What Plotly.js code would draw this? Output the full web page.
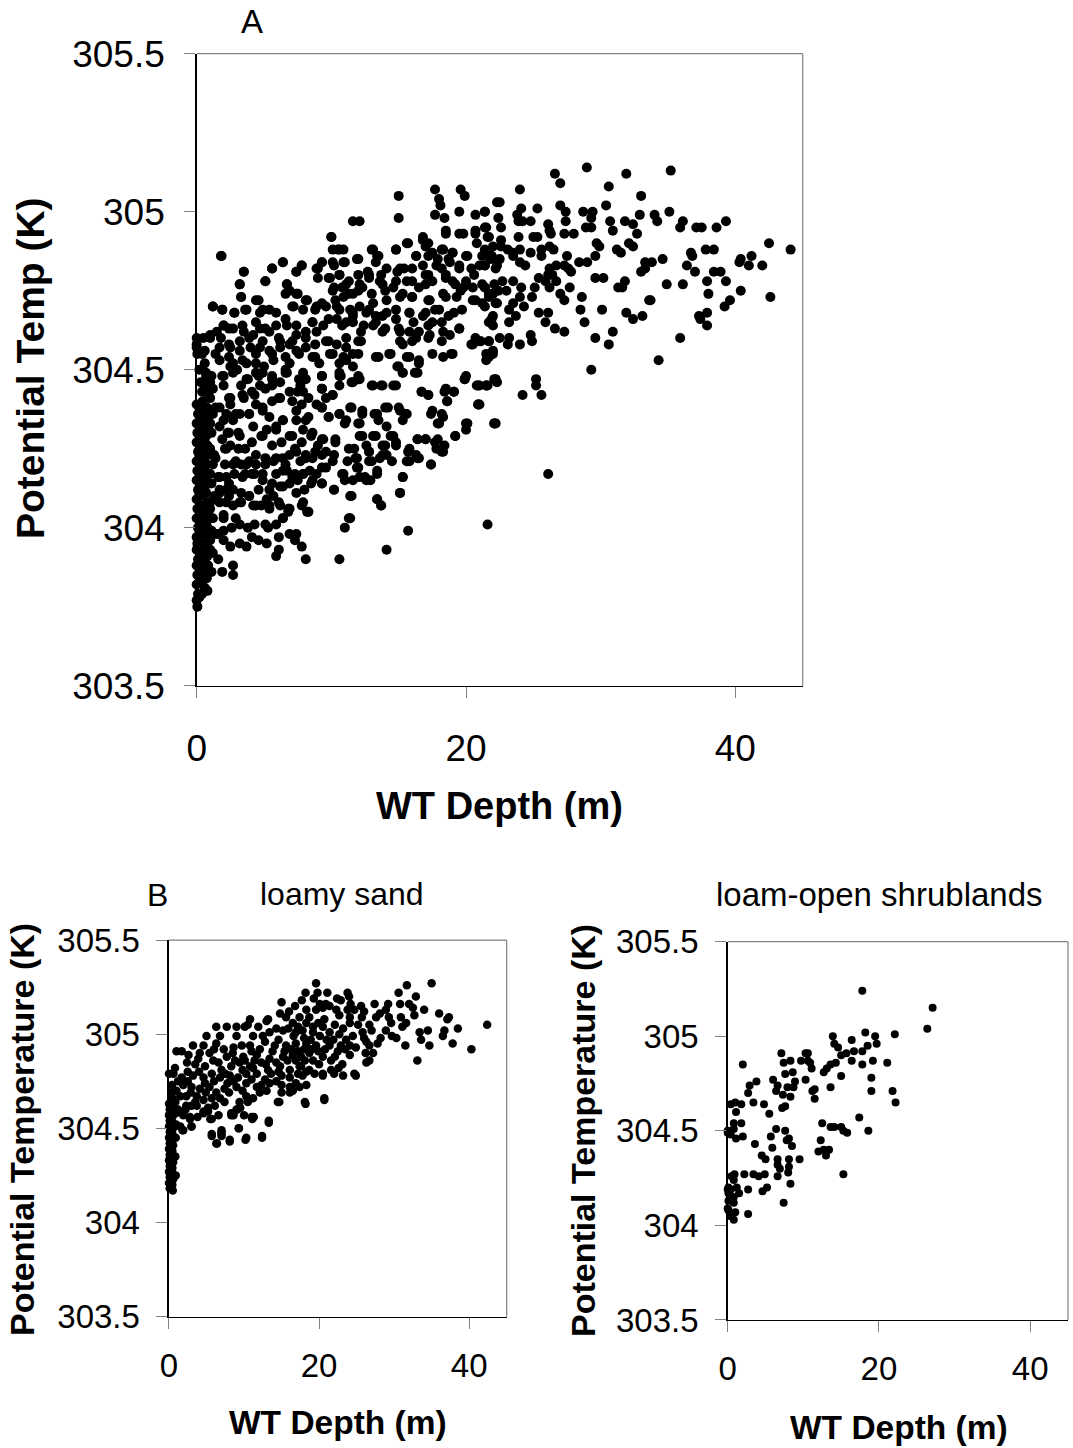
<!DOCTYPE html>
<html><head><meta charset="utf-8">
<script src="https://cdn.plot.ly/plotly-3.0.1.min.js"></script>
<style>html,body{margin:0;padding:0;background:#fff}#chart{width:1073px;height:1448px}</style>
</head><body><div id="chart"></div>
<script>
const xTickVals = [0, 20, 40];
const xTickText = ['0', '20', '40'];
const yTickVals = [303.5, 304, 304.5, 305, 305.5];
const yTickText = ['303.5', '304', '304.5', '305', '305.5'];
const panelTitles = ['A', 'B', 'loamy sand', 'loam-open shrublands'];
const xTitle = 'WT Depth (m)';
const yTitleA = 'Potential Temp (K)';
const yTitleB = 'Potential Temperature (K)';

// Panel A: [WT depth (m), potential temperature (K)]
const panelA_band = [
[0.05,303.75],[0.0,303.77],[0.1,303.79],[0.0,303.82],[0.05,303.85],[0.0,303.88],[0.1,303.90],[0.0,303.93],[0.05,303.95],[0.0,303.97],
[0.1,304.00],[0.0,304.03],[0.05,304.06],[0.0,304.09],[0.1,304.12],[0.0,304.15],[0.05,304.18],[0.0,304.21],[0.1,304.24],[0.0,304.27],
[0.05,304.30],[0.0,304.33],[0.1,304.36],[0.0,304.39],[0.0,304.58],[0.05,304.55],
[0.4,303.79],[0.35,303.83],[0.45,303.86],[0.4,303.90],[0.3,303.92],[0.45,303.95],[0.4,303.98],[0.35,304.01],[0.45,304.04],[0.4,304.07],
[0.3,304.10],[0.45,304.13],[0.4,304.16],[0.35,304.19],[0.45,304.22],[0.4,304.25],[0.3,304.28],[0.45,304.31],[0.4,304.34],[0.35,304.37],
[0.45,304.40],[0.4,304.43],[0.3,304.46],
[0.8,303.80],[0.75,303.84],[0.85,303.88],[0.8,303.91],[0.7,303.94],[0.85,303.97],[0.8,304.00],[0.75,304.02],[0.85,304.05],[0.8,304.08],
[0.7,304.11],[0.85,304.14],[0.8,304.17],[0.75,304.20],[0.85,304.23],[0.8,304.26],[0.7,304.29],[0.85,304.32],[0.8,304.35],[0.75,304.38],
[0.85,304.42],[0.8,304.47],
[1.1,303.86],[1.2,303.92],[1.0,303.96],[1.1,303.99],[1.2,304.03],[1.0,304.08],[1.1,304.14],[1.2,304.20],[1.0,304.25],[1.1,304.30],
[1.2,304.36],[1.0,304.41],[1.1,304.48],
[0.2,303.78],[0.6,303.81],[0.2,303.87],[0.6,303.89],[1.0,303.93],[0.2,303.99],[0.6,304.02],[1.0,304.06],[0.2,304.11],[0.6,304.13],
[1.0,304.17],[0.2,304.23],[0.6,304.27],[1.0,304.33],[0.2,304.38],[0.6,304.44],[1.0,304.46],[0.2,304.50],[0.6,304.52],[1.3,304.10],
[1.4,304.22],[1.4,303.98]
];
const panelA_upper = [
[1.85,304.86],[15.0,305.05],[15.0,304.98],[17.7,305.07],[19.6,305.07],[19.9,305.05],[18.0,305.04],[18.1,305.02],[17.7,304.99],[18.4,304.98],
[19.5,305.0],[20.7,304.99],[21.4,305.0],[22.3,305.03],[11.6,304.97],[12.1,304.97],[10.0,304.92],[18.5,304.94],[19.8,304.93],[20.7,304.94],
[21.5,304.95],[6.4,304.84],[5.6,304.82],[3.5,304.81],[7.8,304.83],[7.4,304.81],[3.2,304.77],[5.1,304.78],[3.3,304.73],[1.2,304.70],
[1.9,304.69],[2.8,304.68],[3.6,304.69],[4.6,304.72],[5.4,304.69],[4.7,304.68],[6.7,304.77],[6.9,304.75],[7.5,304.74],[8.1,304.72],
[7.2,304.70],[8.9,304.82],[9.3,304.84],[9.0,304.79],[10.1,304.88],[10.6,304.88],[11.0,304.84],[12.0,304.85],[10.2,304.83],[9.9,304.79],
[10.6,304.80],[13.1,304.88],[13.5,304.86],[14.8,304.88],[15.7,304.90],[16.8,304.91],[17.2,304.90],[16.3,304.86],[17.5,304.87],[18.3,304.88],
[19.0,304.87],[20.0,304.86],[21.0,304.83],[21.9,304.86],[22.2,304.82],[20.6,304.80],[19.5,304.82],[18.8,304.84],[17.8,304.83],[17.0,304.80],
[16.0,304.82],[15.1,304.82],[14.1,304.82],[12.8,304.80],[12.1,304.77],[11.1,304.77],[10.2,304.76],[10.9,304.73],[11.6,304.74],[12.3,304.76],
[13.6,304.78],[14.6,304.76],[15.6,304.78],[16.5,304.76],[17.5,304.78],[18.5,304.80],[19.0,304.78],[19.8,304.76],[20.5,304.76],[21.4,304.76],
[22.0,304.74],[20.5,304.72],[21.2,304.71],[22.2,304.71],[19.3,304.73],[18.3,304.74],[17.3,304.72],[16.0,304.73],[15.1,304.73],[14.1,304.72],
[13.1,304.71],[12.1,304.70],[11.4,304.69],[10.4,304.70],[9.6,304.70],[8.9,304.70],[8.6,304.65],[9.4,304.64],[10.4,304.66],[11.1,304.65],
[11.6,304.67],[12.6,304.68],[13.3,304.67],[14.1,304.68],[14.8,304.66],[15.8,304.68],[16.8,304.67],[18.0,304.69],[19.1,304.68],[17.5,304.65],
[18.3,304.62],[18.8,304.61],[19.5,304.63],[20.7,304.60],[21.7,304.59],[22.0,304.67],[22.0,304.56],[21.5,304.55],[20.5,304.58],[17.3,304.61],
[16.5,304.62],[16.0,304.59],[15.8,304.62],[15.1,304.62],[15.1,304.59],[13.8,304.62],[13.1,304.64],[12.2,304.62],[12.2,304.59],[11.6,304.55],
[11.1,304.57],[10.4,304.58],[9.6,304.59],[8.9,304.62],[8.1,304.62],[7.4,304.61],[6.7,304.64],[6.2,304.59],[6.9,304.58],[5.4,304.62],
[4.7,304.63],[4.2,304.61],[3.5,304.62],[2.7,304.63],[2.0,304.64],[1.5,304.62],[1.0,304.61],[0.5,304.60],[0.0,304.60],[0.0,304.57],
[0.6,304.56],[1.7,304.57],[2.5,304.57],[3.2,304.56],[4.0,304.57],[4.7,304.57],[5.4,304.56],[6.2,304.57],[7.4,304.56],[8.1,304.57],
[8.6,304.54],[9.9,304.55],[10.9,304.54],[13.3,304.54],[14.3,304.55],[15.6,304.54],[16.5,304.53],[18.3,304.54],[18.9,304.55],[1.7,304.53],
[2.7,304.52],[4.4,304.52],[5.7,304.53],[6.9,304.52],[9.1,304.52],[10.6,304.52],[11.6,304.51],[14.9,304.51]
];
const panelA_upperFill = [
[10.0,304.92],[16.8,304.92],[18.5,304.93],[19.5,304.93],[20.7,304.93],[21.7,304.92],
[10.5,304.88],[10.9,304.88],[13.0,304.88],[13.4,304.86],[14.8,304.88],[15.6,304.90],[17.0,304.89],[18.2,304.88],[19.0,304.87],[20.8,304.90],[21.4,304.88],
[1.8,304.86],[10.1,304.84],[10.9,304.84],[11.9,304.85],[13.3,304.84],[16.3,304.86],[17.2,304.86],[17.9,304.85],[18.7,304.85],[20.1,304.86],[21.2,304.86],[21.8,304.85],
[6.4,304.84],[7.8,304.83],[9.3,304.84],[5.6,304.82],[3.5,304.81],[7.4,304.81],[9.0,304.82],[10.6,304.80],[12.0,304.80],[12.7,304.81],[13.7,304.80],
[14.9,304.81],[15.4,304.82],[16.8,304.83],[17.2,304.80],[18.2,304.82],[19.5,304.83],[20.4,304.82],[21.4,304.83],
[9.8,304.79],[11.3,304.78],[12.8,304.79],[13.8,304.77],[14.8,304.78],[16.0,304.78],[17.0,304.77],[18.5,304.79],[19.2,304.77],[20.0,304.78],[21.2,304.77],
[3.2,304.77],[5.1,304.78],[6.7,304.77],[10.1,304.75],[10.8,304.76],
[3.3,304.73],[4.4,304.72],[6.6,304.74],[7.4,304.74],[8.2,304.72],[9.3,304.71],[10.3,304.72],[11.3,304.74],[12.0,304.75],[13.0,304.74],[14.0,304.75],
[15.3,304.74],[16.0,304.73],[17.2,304.72],[18.5,304.73],[19.6,304.75],[20.7,304.72],[21.7,304.74],
[1.2,304.70],[1.9,304.69],[2.8,304.68],[3.7,304.69],[4.9,304.69],[5.9,304.68],[7.1,304.70],[7.9,304.69],[8.8,304.69],[10.6,304.69],[11.6,304.68],
[12.8,304.69],[13.8,304.67],[14.8,304.69],[15.8,304.68],[17.0,304.68],[17.7,304.69],[18.7,304.67],[19.7,304.69],
[2.0,304.64],[2.4,304.63],[3.4,304.64],[4.4,304.65],[5.1,304.63],[5.9,304.64],[6.6,304.66],[7.4,304.64],[8.6,304.65],[9.8,304.66],[10.8,304.64],
[11.6,304.65],[12.4,304.64],[13.3,304.65],[14.0,304.63],[15.0,304.63],[16.1,304.65],[17.2,304.64],[18.2,304.65],[19.5,304.63],[21.7,304.65],
[1.0,304.60],[1.8,304.60],[2.4,304.58],[3.2,304.59],[3.9,304.60],[4.9,304.59],[6.1,304.60],[7.1,304.59],[8.1,304.60],[8.8,304.58],[9.8,304.59],
[11.1,304.60],[12.0,304.59],[15.3,304.58],[16.3,304.60],[17.2,304.60],[18.2,304.59],[20.4,304.58],[21.0,304.59],
[0.4,304.55],[1.4,304.55],[2.4,304.54],[3.4,304.53],[4.4,304.55],[5.6,304.55],[6.6,304.54],[7.6,304.55],[8.8,304.54],[10.1,304.55],[11.1,304.53],
[12.0,304.55],[13.5,304.54],[14.4,304.55],[15.8,304.54],[16.5,304.52],[17.5,304.55],[19.0,304.55],[21.7,304.54],
[0.7,304.49],[2.0,304.48],[3.0,304.50],[4.4,304.49],[5.6,304.48],[6.6,304.50],[7.9,304.49],[9.3,304.48],[10.6,304.49],[12.0,304.48],[15.0,304.51],
[16.3,304.49],[20.0,304.48]
];
const panelA_lower = [
[19.9,304.47],[20.8,304.45],[21.5,304.45],[22.2,304.47],[20.9,304.39],[20.0,304.33],[20.0,304.31],[22.1,304.33],[21.6,304.01],[16.7,304.43],
[17.2,304.42],[18.4,304.43],[19.1,304.43],[18.6,304.40],[17.4,304.36],[18.3,304.35],[17.9,304.33],[19.2,304.29],[17.0,304.28],[16.4,304.28],
[17.9,304.28],[18.4,304.26],[18.3,304.24],[17.8,304.25],[16.3,304.23],[16.5,304.22],[15.6,304.21],[15.7,304.24],[17.4,304.20],[15.3,304.16],
[15.1,304.11],[15.7,303.99],[14.1,303.93],[10.6,303.90],[8.1,303.90],[5.9,303.91],[6.1,303.93],[2.7,303.85],[1.9,303.86],[2.7,303.88],
[1.6,303.90],[7.8,303.94],[7.3,303.96],[7.4,303.98],[6.9,303.98],[6.1,303.97],[6.4,304.03],[6.8,304.05],[5.9,304.01],[5.2,303.95],
[4.6,303.96],[4.1,303.97],[3.7,303.94],[3.2,303.95],[2.5,303.94],[2.0,303.96],[2.6,304.00],[3.2,304.01],[3.8,304.00],[4.3,304.01],
[5.1,304.01],[5.3,304.00],[2.0,304.03],[2.0,303.99],[1.6,303.98],[6.2,304.07],[5.4,304.06],[4.8,304.07],[4.2,304.07],[3.3,304.08],
[2.7,304.07],[2.2,304.08],[1.7,304.08],[7.8,304.07],[8.2,304.05],[6.8,304.06],[5.7,304.10],[5.2,304.09],[3.9,304.10],[3.3,304.11],
[2.7,304.12],[2.2,304.12],[1.7,304.12],[4.6,304.12],[5.4,304.12],[6.2,304.13],[7.4,304.11],[8.0,304.12],[6.9,304.14],[6.4,304.13],
[7.5,304.15],[8.5,304.14],[9.3,304.14],[8.9,304.17],[8.4,304.18],[7.9,304.17],[7.3,304.17],[6.7,304.18],[5.9,304.17],[4.9,304.17],
[4.3,304.17],[3.6,304.17],[2.8,304.17],[2.2,304.16],[1.6,304.16],[2.1,304.20],[2.7,304.20],[3.3,304.20],[3.9,304.21],[4.4,304.20],
[5.1,304.22],[5.7,304.21],[6.4,304.22],[6.9,304.23],[7.7,304.21],[8.1,304.22],[8.6,304.22],[9.3,304.23],[9.6,304.19],[10.2,304.12],
[10.9,304.17],[11.0,304.15],[11.5,304.10],[11.4,304.03],[11.0,304.00],[12.1,304.16],[12.6,304.15],[12.9,304.15],[13.4,304.17],[13.4,304.09],
[13.7,304.07],[11.9,304.19],[11.2,304.21],[11.9,304.22],[12.8,304.21],[13.6,304.22],[14.1,304.23],[13.8,304.26],[14.8,304.26],[14.4,304.29],
[13.1,304.29],[12.6,304.26],[12.8,304.24],[12.1,304.29],[11.7,304.25],[10.3,304.27],[10.2,304.23],[9.6,304.24],[9.4,304.28],[9.0,304.26],
[8.5,304.29],[7.8,304.27],[7.3,304.25],[6.9,304.29],[6.3,304.27],[5.6,304.26],[4.8,304.29],[4.1,304.27],[3.6,304.25],[3.1,304.25],
[2.5,304.26],[1.9,304.28],[2.1,304.25],[2.3,304.30],[3.1,304.30],[5.2,304.31],[5.9,304.31],[6.4,304.34],[7.4,304.34],[8.3,304.35],
[9.8,304.35],[10.6,304.36],[11.0,304.33],[12.1,304.33],[12.3,304.36],[11.5,304.38],[13.2,304.36],[13.5,304.34],[14.1,304.32],[14.2,304.38],
[15.1,304.37],[15.6,304.36],[15.3,304.34],[13.7,304.45],[14.6,304.45],[13.1,304.45],[11.5,304.46],[10.6,304.45],[10.1,304.42],[9.6,304.41],
[9.3,304.44],[9.3,304.48],[10.7,304.48],[12.1,304.47],[15.3,304.49],[16.2,304.49],[9.3,304.38],[8.9,304.39],[7.8,304.39],[8.3,304.41],
[7.5,304.43],[6.9,304.43],[6.2,304.41],[5.6,304.40],[4.9,304.37],[4.4,304.39],[3.9,304.36],[3.2,304.36],[2.7,304.34],[2.0,304.34],
[1.7,304.38],[2.5,304.39],[3.5,304.41],[4.1,304.43],[4.7,304.45],[5.6,304.45],[6.2,304.46],[6.7,304.49],[7.7,304.45],[8.1,304.47],
[2.5,304.41],[2.0,304.45],[1.2,304.44],[3.3,304.45],[3.8,304.47],[4.9,304.49],[5.0,304.51],[2.5,304.51],[3.7,304.52]
];
const panelA_lowerFill = [
[0.7,304.48],[1.9,304.48],[2.7,304.49],[3.7,304.47],[4.6,304.48],[5.6,304.47],[6.6,304.49],[7.6,304.47],[9.3,304.48],[10.6,304.48],[12.0,304.47],
[15.3,304.49],[16.4,304.49],[19.9,304.47],[20.9,304.45],[21.6,304.45],
[1.1,304.44],[2.4,304.41],[3.4,304.42],[4.3,304.42],[5.1,304.44],[6.1,304.41],[7.1,304.40],[7.9,304.43],[9.3,304.44],[10.1,304.42],[11.6,304.46],
[13.0,304.45],[13.8,304.45],[14.8,304.45],[16.7,304.43],[17.2,304.42],[18.5,304.44],[19.1,304.43],[18.6,304.40],[20.9,304.39],
[1.4,304.38],[2.2,304.36],[2.9,304.36],[3.9,304.36],[4.9,304.38],[5.4,304.35],[6.4,304.34],[7.4,304.37],[8.1,304.34],[9.3,304.38],[9.8,304.35],
[10.6,304.36],[11.1,304.34],[11.4,304.38],[12.3,304.37],[13.4,304.36],[14.0,304.38],[15.0,304.38],[15.5,304.36],[17.5,304.37],[18.2,304.36],
[18.0,304.33],[20.1,304.33],[22.1,304.33],
[1.7,304.32],[2.4,304.30],[3.2,304.29],[4.2,304.32],[4.9,304.29],[5.9,304.32],[7.1,304.29],[7.9,304.31],[8.6,304.30],[9.3,304.28],[10.3,304.28],
[12.0,304.33],[12.3,304.29],[13.3,304.29],[14.0,304.26],[14.6,304.29],[14.8,304.27],[16.4,304.28],[17.0,304.28],[17.7,304.27],[19.2,304.29],[18.2,304.24],
[1.3,304.23],[2.2,304.25],[2.9,304.21],[3.7,304.20],[4.4,304.23],[5.1,304.20],[5.9,304.22],[6.6,304.20],[7.4,304.24],[8.1,304.23],[8.8,304.24],
[9.3,304.19],[10.1,304.21],[11.3,304.25],[11.8,304.22],[12.8,304.24],[13.0,304.21],[13.8,304.23],[14.5,304.21],[15.8,304.25],[15.8,304.21],
[16.4,304.22],[17.4,304.20],[12.0,304.19],
[1.7,304.16],[2.4,304.14],[3.4,304.16],[4.1,304.17],[4.9,304.15],[5.6,304.14],[6.4,304.18],[7.1,304.16],[7.9,304.17],[8.6,304.15],[9.3,304.14],
[10.8,304.17],[11.6,304.15],[12.5,304.16],[13.4,304.18],[15.3,304.16],[10.2,304.12],
[1.7,304.11],[2.4,304.10],[3.2,304.08],[3.9,304.10],[4.4,304.07],[5.4,304.07],[6.1,304.08],[6.9,304.06],[7.9,304.08],[8.3,304.05],[2.0,304.04],
[2.9,304.03],[6.4,304.03],[11.4,304.10],[13.4,304.09],[13.7,304.07],[15.1,304.11],[11.3,304.03]
];
const panelA_deep = [
[28.97,305.14],[31.9,305.12],[35.2,305.13],[26.6,305.12],[27.0,305.09],[30.6,305.08],[24.0,305.07],[33.0,305.05],[22.5,305.03],[21.4,305.00],
[24.1,305.01],[25.3,305.01],[27.0,305.02],[27.4,305.00],[28.7,305.00],[29.4,305.00],[30.4,305.02],[35.1,305.00],[32.9,304.99],[34.0,304.99],
[34.2,304.97],[29.3,304.98],[23.8,304.99],[22.4,304.98],[24.2,304.97],[24.8,304.97],[23.9,304.97],[26.1,304.96],[27.4,304.97],[30.7,304.97],
[31.8,304.97],[32.4,304.96],[36.1,304.97],[35.9,304.95],[37.1,304.95],[37.5,304.95],[38.6,304.95],[39.3,304.97],[21.4,304.95],[22.6,304.95],
[26.2,304.94],[28.9,304.95],[29.3,304.95],[30.9,304.94],[32.7,304.93],[26.3,304.93],[27.3,304.93],[28.0,304.93],[21.6,304.92],[23.9,304.92],
[25.0,304.92],[25.3,304.92],[22.6,304.91],[42.5,304.90],[44.1,304.88],[29.7,304.90],[29.9,304.89],[32.1,304.90],[32.4,304.89],[31.2,304.88],
[31.5,304.87],[37.8,304.88],[38.4,304.88],[36.7,304.87],[36.8,304.86],[41.2,304.86],[40.4,304.85],[40.3,304.84],[41.0,304.83],[42.0,304.83],
[34.6,304.85],[33.3,304.84],[33.8,304.84],[29.6,304.86],[28.4,304.84],[29.0,304.84],[27.5,304.86],[25.6,304.88],[25.6,304.86],[26.2,304.89],
[26.5,304.88],[24.8,304.87],[24.0,304.88],[23.5,304.87],[23.1,304.88],[22.6,304.89],[22.0,304.89],[21.5,304.87],[21.9,304.86],[22.5,304.85],
[23.5,304.86],[24.0,304.84],[24.4,304.83],[22.3,304.83],[21.4,304.83],[36.4,304.83],[37.0,304.81],[38.4,304.81],[38.9,304.81],[33.0,304.81],
[33.3,304.82],[27.3,304.83],[27.6,304.82],[27.8,304.81],[26.7,304.83],[26.2,304.82],[26.1,304.80],[26.4,304.80],[25.4,304.79],[29.6,304.79],
[30.2,304.79],[37.9,304.78],[39.3,304.78],[34.9,304.77],[36.1,304.77],[31.8,304.78],[31.3,304.76],[31.6,304.76],[25.9,304.78],[26.2,304.76],
[26.7,304.78],[27.7,304.76],[27.0,304.74],[28.6,304.73],[27.3,304.72],[25.1,304.76],[24.9,304.73],[24.0,304.73],[24.1,304.76],[23.5,304.78],
[22.7,304.78],[22.1,304.77],[21.4,304.76],[21.7,304.73],[22.4,304.75],[23.0,304.75],[23.5,304.71],[24.3,304.70],[22.3,304.71],[21.4,304.70],
[38.0,304.74],[40.4,304.75],[39.6,304.72],[39.2,304.70],[42.6,304.73],[33.7,304.72],[33.6,304.72],[23.2,304.69],[23.7,304.67],[21.9,304.66],
[22.0,304.64],[23.2,304.65],[25.4,304.68],[26.1,304.68],[25.9,304.65],[26.6,304.63],[27.3,304.62],[28.5,304.69],[28.8,304.65],[30.1,304.69],
[31.9,304.68],[32.4,304.66],[33.1,304.67],[37.3,304.67],[37.4,304.66],[37.9,304.68],[37.9,304.64],[30.9,304.62],[30.6,304.58],[29.6,304.60],
[24.8,304.61],[24.9,304.59],[24.0,304.58],[23.2,304.60],[23.1,304.58],[22.5,304.60],[21.7,304.59],[21.1,304.59],[22.0,304.55],[21.5,304.53],
[35.9,304.60],[34.3,304.53],[29.3,304.50],[22.1,304.47],[22.3,304.46],[21.5,304.45],[21.0,304.45],[25.2,304.47],[25.2,304.45],[25.6,304.42],
[24.2,304.42],[21.0,304.39],[22.2,304.33],[26.1,304.17]
];

// Panel B, loamy sand
const panelBL_band = [
[0.1,304.18],[0.0,304.21],[0.1,304.24],[0.0,304.27],[0.1,304.30],[0.0,304.33],[0.1,304.36],[0.0,304.39],[0.1,304.42],[0.0,304.45],
[0.1,304.48],[0.0,304.51],[0.1,304.54],[0.0,304.57],[0.1,304.60],[0.0,304.63],
[0.5,304.17],[0.45,304.20],[0.55,304.23],[0.5,304.26],[0.45,304.29],[0.55,304.32],[0.5,304.35],[0.45,304.38],[0.55,304.41],[0.5,304.44],
[0.45,304.47],[0.55,304.50],[0.5,304.53],[0.45,304.56],[0.55,304.59],[0.5,304.62],[0.45,304.66],[0.5,304.70],
[0.9,304.25],[0.85,304.35],[0.9,304.45],[0.95,304.52],[0.9,304.58],[0.85,304.64]
];
const panelBL_main = [
[19.6,305.27],[35.0,305.27],[31.7,305.26],[18.2,305.22],[19.8,305.22],[23.8,305.22],[30.6,305.22],[17.7,305.18],[19.3,305.19],[15.0,305.17],
[22.4,305.19],[24.0,305.20],[32.9,305.20],[27.4,305.16],[29.2,305.16],[30.8,305.16],[32.0,305.16],[20.1,305.16],[20.9,305.16],[21.4,305.15],
[18.3,305.13],[19.6,305.13],[20.5,305.14],[22.3,305.13],[23.8,305.13],[24.7,305.13],[26.0,305.12],[28.9,305.13],[32.5,305.14],[34.0,305.13],
[14.8,305.11],[15.6,305.09],[17.4,305.09],[18.7,305.09],[20.7,305.08],[22.7,305.10],[24.1,305.09],[27.6,305.09],[30.9,305.09],[32.7,305.10],
[36.0,305.11],[37.3,305.09],[37.1,305.08],[10.8,305.08],[13.0,305.07],[13.2,305.08],[7.7,305.04],[6.3,305.04],[9.0,305.04],[10.1,305.04],
[10.5,305.05],[11.9,305.04],[16.5,305.06],[17.2,305.04],[18.3,305.06],[19.2,305.04],[20.5,305.04],[22.1,305.05],[24.1,305.06],[25.2,305.05],
[26.7,305.05],[29.6,305.06],[31.1,305.04],[31.6,305.06],[38.5,305.03],[42.4,305.05],[28.9,305.02],[30.3,304.98],[29.7,304.99],[33.4,305.01],
[34.5,305.02],[33.6,304.97],[34.7,304.94],[31.5,304.94],[36.5,304.99],[36.7,305.02],[37.8,304.95],[40.3,304.92],[33.1,304.86],[25.8,305.01],
[24.5,304.99],[22.7,305.0],[21.4,305.01],[20.1,304.99],[19.2,305.01],[17.8,305.02],[16.9,305.01],[15.2,305.02],[13.4,305.01],[12.5,304.99],
[11.2,304.99],[9.0,304.99],[6.8,304.99],[5.0,304.99],[3.2,304.94],[4.6,304.94],[6.3,304.95],[8.5,304.90],[9.7,304.94],[10.8,304.94],
[12.8,304.96],[14.1,304.94],[15.6,304.94],[16.9,304.95],[18.3,304.95],[19.6,304.94],[21.4,304.94],[22.9,304.94],[24.1,304.94],[26.3,304.96],
[26.7,304.94],[27.8,304.95],[1.0,304.91],[1.7,304.91],[2.6,304.89],[4.1,304.90],[5.4,304.90],[7.7,304.88],[9.9,304.88],[11.7,304.89],
[13.4,304.87],[15.2,304.88],[16.5,304.89],[17.6,304.88],[18.7,304.90],[20.5,304.88],[22.1,304.88],[24.1,304.89],[26.2,304.90],[27.2,304.90],
[19.2,304.86],[21.6,304.86],[23.1,304.84],[26.3,304.85],[26.7,304.86],[24.9,304.93],[2.4,304.85],[3.5,304.84],[4.8,304.83],[5.9,304.86],
[7.0,304.81],[8.3,304.83],[9.4,304.85],[10.8,304.83],[12.3,304.85],[13.2,304.81],[14.8,304.83],[16.1,304.81],[17.4,304.83],[18.3,304.80],
[20.5,304.78],[21.6,304.81],[23.2,304.78],[24.7,304.79],[24.9,304.78],[0.0,304.79],[0.6,304.79],[0.8,304.82],[1.7,304.77],[3.2,304.78],
[4.6,304.77],[5.7,304.79],[6.8,304.77],[8.1,304.78],[9.2,304.77],[10.3,304.79],[11.7,304.79],[12.8,304.76],[15.0,304.78],[16.1,304.77],
[17.2,304.79],[17.8,304.78],[18.7,304.81],[17.6,304.83],[20.5,304.79],[1.9,304.73],[3.0,304.72],[4.1,304.71],[5.4,304.72],[6.3,304.69],
[7.4,304.71],[9.0,304.72],[10.3,304.74],[11.7,304.72],[12.1,304.69],[15.0,304.73],[16.1,304.72],[17.4,304.72],[18.3,304.73],[13.4,304.74],
[14.3,304.75],[16.9,304.74],[0.4,304.73],[0.4,304.69],[1.5,304.67],[2.3,304.67],[3.7,304.67],[4.6,304.65],[5.7,304.66],[6.8,304.66],
[7.4,304.64],[10.3,304.67],[11.2,304.66],[14.5,304.64],[15.0,304.69],[16.1,304.69],[16.5,304.70],[18.1,304.64],[20.7,304.66],[9.4,304.64],
[10.5,304.64],[8.3,304.58],[9.0,304.60],[3.0,304.62],[4.6,304.59],[5.2,304.59],[1.2,304.60],[1.9,304.57],[2.8,304.56],[5.7,304.55],
[8.3,304.57],[11.0,304.56],[13.3,304.54],[1.5,304.51],[1.9,304.49],[3.0,304.51],[5.7,304.47],[7.0,304.49],[7.0,304.47],[6.3,304.42],
[8.1,304.44],[9.3,304.50],[10.3,304.45],[12.4,304.46]
];
const panelBL_fill = [
[14.3,305.03],[15.9,305.03],[16.6,304.99],[18.0,304.98],[18.9,304.97],[19.9,305.06],[21.0,304.97],[21.9,304.97],[23.2,305.03],[23.6,304.97],
[14.6,304.97],[13.8,304.91],[15.4,304.91],[16.3,304.92],[17.2,304.91],[18.0,304.92],[19.0,304.92],[19.9,304.91],[20.8,304.92],[22.5,304.91],
[23.5,304.92],[12.1,304.92],[11.0,304.91],[8.6,304.93],[7.3,304.92],[6.0,304.92],[3.9,304.87],[6.6,304.85],[8.8,304.86],[10.1,304.86],
[11.4,304.86],[12.9,304.84],[14.3,304.85],[15.8,304.86],[16.9,304.86],[18.1,304.86],[20.0,304.84],[22.6,304.82],[13.6,304.79],[14.6,304.80],
[19.4,304.79],[22.0,304.79],[2.5,304.80],[4.0,304.80],[7.5,304.79],[9.8,304.81],[11.2,304.82],[1.2,304.75],[2.5,304.75],[4.8,304.74],
[6.0,304.75],[7.8,304.74],[8.6,304.75],[11.0,304.76],[12.3,304.73],[1.0,304.70],[2.9,304.69],[4.9,304.69],[8.0,304.69],[9.8,304.70],
[13.0,304.70],[3.5,304.64],[6.1,304.62],[2.2,304.60],[3.8,304.56],[6.6,304.57],[10.0,304.57],[25.7,305.09],[28.1,305.11],[29.3,305.09],
[27.0,305.02],[26.0,304.98],[28.2,304.98],[24.2,305.16],[25.6,305.15],[22.9,305.18],[21.1,305.22],[16.8,305.15],[16.0,305.12]
];
const panelBL_low = [
[5.7,304.46],[6.4,304.42],[7.0,304.48],[7.0,304.46],[8.1,304.43],[9.3,304.50],[10.2,304.44],[11.1,304.55],[11.3,304.56],[12.4,304.45],
[13.3,304.53],[8.6,304.57],[9.1,304.60],[9.5,304.61],[1.8,304.49],[3.0,304.51],[2.8,304.55],[5.5,304.55],[4.6,304.58],[5.2,304.61],
[3.7,304.62],[2.3,304.62],[14.7,304.64],[18.2,304.63],[20.7,304.65]
];

// Panel B, loam-open shrublands
const panelBR = [
[17.8,305.24],[27.1,305.15],[26.4,305.04],[18.2,305.02],[13.9,305.00],[16.4,304.98],[19.5,305.00],[22.1,305.01],[19.7,304.96],[18.5,304.95],
[14.1,304.96],[14.6,304.94],[16.7,304.92],[17.8,304.92],[15.0,304.90],[15.7,304.91],[16.4,304.87],[17.8,304.85],[19.2,304.87],[21.1,304.86],
[7.1,304.91],[10.3,304.91],[10.6,304.91],[9.7,304.87],[10.6,304.87],[10.9,304.86],[11.1,304.83],[8.3,304.87],[7.4,304.86],[13.6,304.85],
[14.3,304.86],[13.1,304.83],[12.7,304.81],[8.6,304.81],[7.6,304.80],[2.0,304.85],[15.0,304.79],[19.0,304.78],[19.0,304.71],[21.8,304.71],
[22.2,304.65],[10.3,304.77],[8.9,304.76],[6.0,304.77],[3.8,304.76],[2.9,304.74],[6.6,304.74],[7.9,304.73],[8.7,304.73],[6.4,304.71],
[11.2,304.71],[11.5,304.72],[13.6,304.73],[2.7,304.70],[7.3,304.69],[8.3,304.68],[11.5,304.67],[3.4,304.65],[4.8,304.64],[1.0,304.65],
[1.8,304.64],[0.4,304.64],[1.1,304.60],[7.2,304.62],[7.6,304.63],[5.5,304.59],[0.8,304.54],[1.8,304.54],[0.8,304.51],[0.0,304.49],
[0.4,304.48],[1.1,304.46],[2.0,304.47],[17.4,304.57],[12.5,304.54],[13.6,304.52],[14.1,304.52],[15.0,304.52],[15.3,304.50],[15.8,304.49],
[18.6,304.50],[6.4,304.51],[7.6,304.50],[3.6,304.43],[5.7,304.47],[5.9,304.41],[8.1,304.46],[7.8,304.45],[8.5,304.42],[12.3,304.45],
[12.0,304.39],[12.7,304.40],[13.4,304.40],[13.0,304.37],[4.5,304.37],[5.0,304.35],[6.6,304.35],[8.1,304.35],[9.5,304.35],[6.6,304.32],
[6.9,304.30],[8.1,304.31],[8.0,304.28],[6.6,304.26],[2.2,304.27],[3.4,304.27],[4.1,304.26],[4.9,304.27],[0.9,304.27],[0.8,304.24],
[15.3,304.27],[8.3,304.22],[4.6,304.18],[5.2,304.20],[2.7,304.19],[1.5,304.17],[0.1,304.20],[0.1,304.17],[0.8,304.15],[0.1,304.13],
[0.8,304.12],[0.1,304.08],[1.0,304.07],[0.3,304.05],[0.8,304.03],[7.4,304.12],[2.7,304.06],[0.0,304.19],[0.0,304.09],[0.4,304.19],
[1.2,304.20],[0.5,304.26],[0.0,304.50]
];

const FONT = 'Liberation Sans, Arial, sans-serif';
const panelA = panelA_band.concat(panelA_upper, panelA_upperFill, panelA_lower, panelA_lowerFill, panelA_deep);
const panelBL = panelBL_band.concat(panelBL_main, panelBL_fill, panelBL_low);

function trace(pts, xa, ya, size) {
  return {type: 'scatter', mode: 'markers', x: pts.map(p => p[0]), y: pts.map(p => p[1]),
    xaxis: xa, yaxis: ya, cliponaxis: false, hoverinfo: 'skip',
    marker: {color: '#000', size: size, line: {width: 0}}};
}
function xAxis(domain, anchor, fs, standoff) {
  return {domain: domain, anchor: anchor, range: [0, 45], tickvals: xTickVals, ticktext: xTickText,
    showgrid: false, zeroline: false, showline: true, linecolor: '#000', linewidth: 1.5,
    ticks: 'outside', ticklen: 11, tickcolor: '#808080', tickwidth: 1,
    ticklabelstandoff: standoff, tickfont: {family: FONT, size: fs, color: '#000'}, fixedrange: true};
}
function yAxis(domain, anchor, fs, standoff) {
  return {domain: domain, anchor: anchor, range: [303.5, 305.5], tickvals: yTickVals, ticktext: yTickText,
    showgrid: false, zeroline: false, showline: true, linecolor: '#000', linewidth: 1.5,
    ticks: 'outside', ticklen: 11, tickcolor: '#808080', tickwidth: 1,
    ticklabelstandoff: standoff, tickfont: {family: FONT, size: fs, color: '#000'}, fixedrange: true};
}
function frame(xr, yr) {
  return [
    {type: 'line', xref: xr + ' domain', yref: yr + ' domain', x0: 0, x1: 1, y0: 1, y1: 1, line: {color: '#808080', width: 1.2}},
    {type: 'line', xref: xr + ' domain', yref: yr + ' domain', x0: 1, x1: 1, y0: 0, y1: 1, line: {color: '#808080', width: 1.2}}
  ];
}
function ann(text, px, py, size, bold, angle) {
  return {text: bold ? '<b>' + text + '</b>' : text, xref: 'paper', yref: 'paper',
    x: px / 1073, y: 1 - py / 1448, xanchor: 'center', yanchor: 'middle', showarrow: false,
    textangle: angle || 0, font: {family: FONT, size: size, color: '#000'}};
}

const data = [trace(panelA, 'x', 'y', 10), trace(panelBL, 'x2', 'y2', 8.5), trace(panelBR, 'x3', 'y3', 8)];
const layout = {
  width: 1073, height: 1448, margin: {l: 0, r: 0, t: 0, b: 0},
  paper_bgcolor: '#fff', plot_bgcolor: '#fff', showlegend: false,
  xaxis: xAxis([0.1833, 0.7481], 'y', 37, 18),
  yaxis: yAxis([0.5265, 0.9629], 'x', 37, 12),
  xaxis2: xAxis([0.1575, 0.4722], 'y2', 33, 8),
  yaxis2: yAxis([0.0907, 0.3508], 'x2', 33, 10),
  xaxis3: xAxis([0.6782, 0.9953], 'y3', 33, 8),
  yaxis3: yAxis([0.0884, 0.3497], 'x3', 33, 10),
  shapes: frame('x', 'y').concat(frame('x2', 'y2'), frame('x3', 'y3')),
  annotations: [
    ann(panelTitles[0], 252, 22, 33, false),
    ann(panelTitles[1], 157, 895, 32, false),
    ann(panelTitles[2], 341.7, 894, 32, false),
    ann(panelTitles[3], 879, 894, 33, false),
    ann(yTitleA, 30, 368, 39, true, -90),
    ann(xTitle, 499, 806, 38, true),
    ann(yTitleB, 22, 1130, 34, true, -90),
    ann(xTitle, 337.5, 1422, 33.5, true),
    ann(yTitleB, 583, 1131, 34, true, -90),
    ann(xTitle, 898.5, 1427, 33.5, true)
  ]
};
Plotly.newPlot('chart', data, layout, {staticPlot: true, displayModeBar: false});
</script>
</body></html>
